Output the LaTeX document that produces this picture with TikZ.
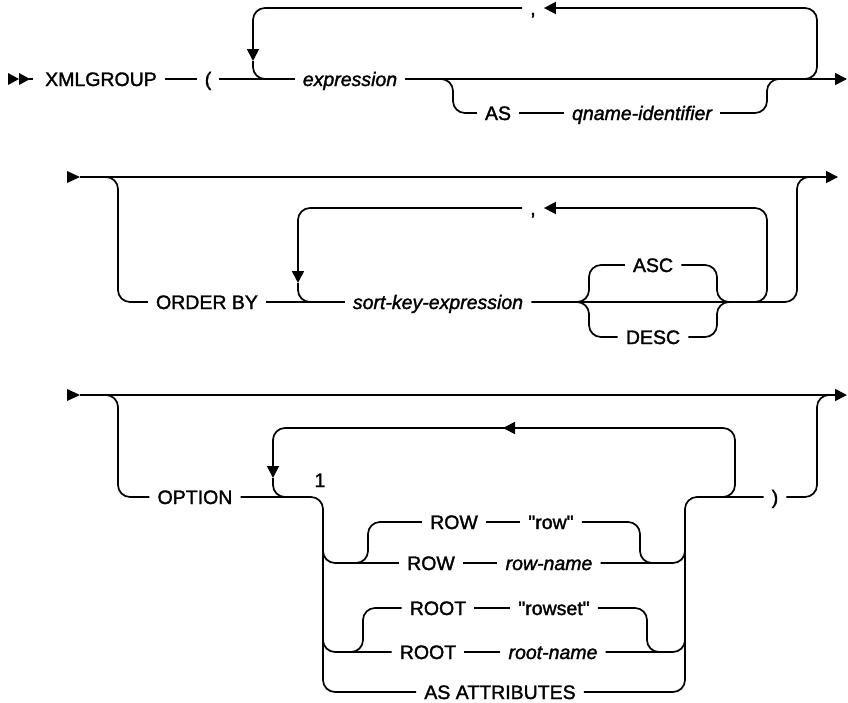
\documentclass[tikz,border=0pt]{standalone}
\usepackage{fontspec}
\setmainfont{Liberation Sans}[FakeBold=1.6, Ligatures=TeXOff]
\usetikzlibrary{arrows.meta}

\tikzset{
  rail/.style={line width=1.7pt, rounded corners=12pt},
  railend/.style={rail, -{Triangle[length=12pt,width=12pt]}},
  tok/.style={inner xsep=8pt, inner ysep=0pt, text height=14pt, text depth=0pt},
  var/.style={tok, font=\fontsize{19.5}{22}\selectfont\itshape}
}

\begin{document}
\begin{tikzpicture}[x=1pt, y=-1pt, font=\fontsize{19.5}{22}\selectfont]
    \useasboundingbox (0,0) rectangle (848,702);

    % --- first line: XMLGROUP ( expression [AS qname-identifier] ...
    \fill (8,73) -- (19,79) -- (8,85) -- cycle;
    \fill (19,73) -- (30,79) -- (19,85) -- cycle;
    \coordinate (s1) at (29,79);
    \coordinate (e1) at (847,79);
    \node[tok] (xmlgroup) at (101,79) {XMLGROUP};
    \node[tok] (lpar) at (208,79) {(};
    \node[var] (expr) at (350,79) {expression};
    \node[tok] (comma1) at (533,8) {,};
    \node[tok] (as1) at (498,113) {AS};
    \node[var] (qname) at (642,113) {qname-identifier};
    \draw[rail] (s1) -- ([xshift=-4pt]xmlgroup.west);
    \draw[rail] (xmlgroup) -- (lpar);
    \draw[rail] (lpar) -- (expr);
    \draw[railend] (expr) -- (e1);
    % repeat loop
    \draw[railend] (803,79) -- (817,79) -- (817,8) -- (comma1.east);
    \draw[railend] (comma1.west) -- (253,8) -- (253,61);
    \draw[rail] (253,61) -- (253,79) -- (268,79);
    % optional AS
    \draw[rail] (440,79) -- (453,79) -- (453,113) -- (as1);
    \draw[rail] (as1) -- (qname);
    \draw[rail] (qname) -- (767,113) -- (767,79) -- (780,79);

    % --- second line: ORDER BY
    \fill (67,171) -- (80,177) -- (67,183) -- cycle;
    \coordinate (s2) at (80,177);
    \coordinate (e2) at (838,177);
    \draw[railend] (s2) -- (e2);
    \node[tok] (orderby) at (207,302) {ORDER BY};
    \node[var] (sortkey) at (438,302) {sort-key-expression};
    \node[tok] (comma2) at (533,208) {,};
    \node[tok] (asc) at (653,265) {ASC};
    \node[tok] (desc) at (653,337) {DESC};
    \draw[rail] (105,177) -- (118,177) -- (118,302) -- (orderby);
    \draw[rail] (orderby) -- (sortkey);
    \draw[rail] (sortkey) -- (797,302) -- (797,177) -- (811,177);
    % repeat loop
    \draw[railend] (754,302) -- (767,302) -- (767,208) -- (comma2.east);
    \draw[railend] (comma2.west) -- (298,208) -- (298,283);
    \draw[rail] (298,283) -- (298,302) -- (312,302);
    % ASC / DESC
    \draw[rail] (576,302) -- (589,302) -- (589,265) -- (asc);
    \draw[rail] (576,302) -- (589,302) -- (589,337) -- (desc);
    \draw[rail] (asc) -- (717,265) -- (717,302) -- (730,302);
    \draw[rail] (desc) -- (717,337) -- (717,302) -- (730,302);

    % --- third line: OPTION
    \fill (67,389) -- (80,395) -- (67,401) -- cycle;
    \coordinate (s3) at (80,395);
    \coordinate (e3) at (847,395);
    \draw[railend] (s3) -- (e3);
    \node[tok] (option) at (195,497) {OPTION};
    \node[tok] (note) at (320,480) {1};
    \node[tok] (rparen) at (775,497) {)};
    \node[tok] (rowkw1) at (454,522) {ROW};
    \node[tok] (rowval) at (551,522) {"row"};
    \node[tok] (rowkw2) at (431,563) {ROW};
    \node[var] (rowname) at (549,563) {row-name};
    \node[tok] (rootkw1) at (438,608) {ROOT};
    \node[tok] (rootval) at (554,608) {"rowset"};
    \node[tok] (rootkw2) at (428,652) {ROOT};
    \node[var] (rootname) at (553,652) {root-name};
    \node[tok] (asattr) at (500,692) {AS ATTRIBUTES};
    \draw[rail] (105,395) -- (118,395) -- (118,497) -- (option);
    % choice
    \draw[rail] (option) -- (323,497) -- (323,692) -- (asattr);
    \draw[rail] (asattr) -- (685,692) -- (685,497) -- (rparen);
    \draw[rail] (323,540) -- (323,563) -- (rowkw2);
    \draw[rail] (323,630) -- (323,652) -- (rootkw2);
    \draw[rail] (rowkw2) -- (rowname);
    \draw[rail] (rowname) -- (685,563) -- (685,540);
    \draw[rail] (rootkw2) -- (rootname);
    \draw[rail] (rootname) -- (685,652) -- (685,630);
    % ROW "row"
    \draw[rail] (355,563) -- (368,563) -- (368,522) -- (rowkw1);
    \draw[rail] (rowkw1) -- (rowval);
    \draw[rail] (rowval) -- (640,522) -- (640,563) -- (653,563);
    % ROOT "rowset"
    \draw[rail] (350,652) -- (363,652) -- (363,608) -- (rootkw1);
    \draw[rail] (rootkw1) -- (rootval);
    \draw[rail] (rootval) -- (647,608) -- (647,652) -- (660,652);
    % repeat loop
    \draw[railend] (722,497) -- (735,497) -- (735,428) -- (503,428);
    \draw[railend] (510,428) -- (273,428) -- (273,478);
    \draw[rail] (273,478) -- (273,497) -- (288,497);
    \draw[rail] (rparen) -- (817,497) -- (817,395) -- (831,395);
\end{tikzpicture}
\end{document}
